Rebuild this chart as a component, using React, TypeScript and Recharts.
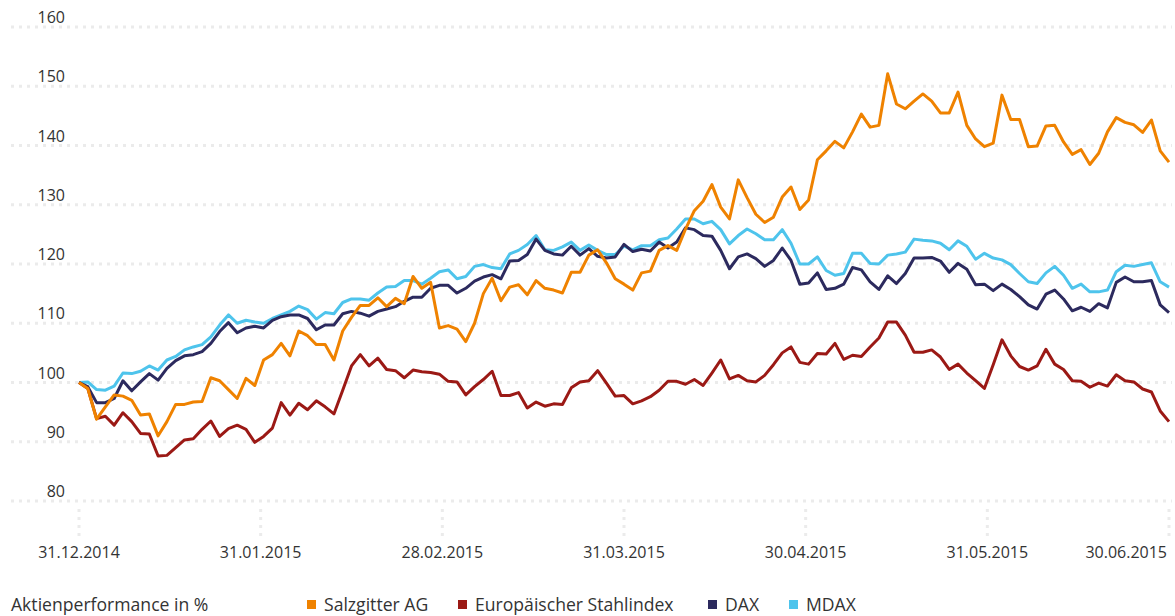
import { LineChart, Line, XAxis, YAxis, CartesianGrid } from "recharts";

const dates = ["31.12.2014", "31.01.2015", "28.02.2015", "31.03.2015", "30.04.2015", "31.05.2015", "30.06.2015"];
const yTicks = [80, 90, 100, 110, 120, 130, 140, 150, 160];

// Aktienperformance, indexiert 31.12.2014 = 100 (Handelstage)
const salzgitter = [
  100, 99, 93.8, 95.9, 97.9, 97.7, 97.0, 94.5, 94.7, 91.0,
  93.4, 96.3, 96.3, 96.7, 96.8, 100.8, 100.3, 98.8, 97.3, 100.7,
  99.5, 103.8, 104.7, 106.6, 104.5, 108.7, 107.9, 106.4, 106.4, 103.8,
  108.7, 111.0, 113.0, 113.0, 114.3, 112.8, 114.2, 113.3, 117.9, 115.9,
  116.9, 109.2, 109.6, 109.0, 106.9, 110.0, 115.0, 117.6, 113.8, 116.1,
  116.5, 114.8, 117.2, 115.9, 115.6, 115.1, 118.6, 118.6, 121.5, 122.4,
  120.2, 117.5, 116.6, 115.6, 118.5, 118.8, 122.3, 123.1, 122.3, 125.9,
  129.0, 130.6, 133.4, 129.6, 127.6, 134.2, 131.2, 128.4, 127.0, 127.9,
  131.3, 133.0, 129.2, 130.8, 137.6, 139.1, 140.7, 139.6, 142.3, 145.3,
  143.1, 143.4, 152.1, 147.0, 146.2, 147.5, 148.7, 147.5, 145.5, 145.5,
  149.0, 143.4, 141.1, 139.8, 140.4, 148.5, 144.4, 144.4, 139.8, 139.9,
  143.3, 143.4, 140.6, 138.5, 139.3, 136.8, 138.7, 142.3, 144.7, 143.9,
  143.5, 142.2, 144.3, 139.1, 137.2,
];

const stahlindex = [
  100, 99, 93.9, 94.3, 92.8, 94.9, 93.4, 91.4, 91.3, 87.6,
  87.7, 89.0, 90.3, 90.5, 92.1, 93.5, 90.9, 92.2, 92.8, 92.1,
  89.9, 90.9, 92.3, 96.6, 94.5, 96.5, 95.4, 96.9, 95.9, 94.7,
  98.7, 102.8, 104.7, 102.8, 104.1, 102.2, 102.0, 100.8, 102.1, 101.8,
  101.7, 101.4, 100.2, 100.1, 97.9, 99.3, 100.5, 101.9, 97.8, 97.8,
  98.3, 95.7, 96.7, 96.0, 96.4, 96.3, 99.1, 100.1, 100.3, 102.0,
  99.9, 97.7, 97.8, 96.4, 96.9, 97.6, 98.7, 100.2, 100.2, 99.7,
  100.5, 99.5, 101.6, 103.8, 100.6, 101.2, 100.3, 100.1, 101.2, 103.0,
  105.0, 106.0, 103.4, 103.1, 104.9, 104.8, 106.6, 103.9, 104.6, 104.4,
  106.0, 107.5, 110.2, 110.2, 108.0, 105.1, 105.1, 105.5, 104.3, 102.2,
  103.1, 101.6, 100.3, 99.0, 103.0, 107.2, 104.5, 102.7, 102.1, 102.8,
  105.6, 103.1, 102.2, 100.3, 100.2, 99.2, 99.9, 99.4, 101.3, 100.3,
  100.1, 98.9, 98.4, 95.2, 93.4,
];

const dax = [
  100, 99.3, 96.6, 96.6, 97.3, 100.3, 98.6, 100.1, 101.5, 100.4,
  102.4, 103.7, 104.5, 104.7, 105.2, 106.6, 108.6, 110.1, 108.4, 109.2,
  109.5, 109.2, 110.5, 111.1, 111.4, 111.4, 110.8, 108.9, 109.7, 109.7,
  111.6, 112.0, 111.7, 111.2, 112.0, 112.4, 112.8, 113.7, 114.4, 114.4,
  115.9, 116.4, 116.4, 115.1, 115.9, 117.1, 117.8, 118.2, 117.5, 120.5,
  120.6, 121.6, 124.2, 122.3, 121.7, 121.5, 123.0, 121.5, 122.6, 121.3,
  121.0, 121.2, 123.3, 122.1, 122.5, 122.2, 123.7, 122.7, 123.7, 126.1,
  125.8, 124.8, 124.7, 122.3, 119.2, 121.2, 121.7, 120.9, 119.6, 120.6,
  122.7, 120.6, 116.6, 116.8, 118.5, 115.7, 115.9, 116.6, 119.4, 119.0,
  117.0, 115.7, 118.0, 116.7, 118.4, 121.0, 121.0, 121.1, 120.5, 118.6,
  120.1, 119.1, 116.5, 116.6, 115.5, 116.6, 115.7, 114.5, 113.1, 112.4,
  114.9, 115.6, 114.1, 112.1, 112.7, 112.0, 113.3, 112.6, 116.9, 117.8,
  117.0, 117.0, 117.2, 113.1, 111.8,
];

const mdax = [
  100, 100.1, 98.8, 98.7, 99.4, 101.6, 101.5, 101.9, 102.8, 102.1,
  103.8, 104.4, 105.5, 106.0, 106.4, 107.7, 109.7, 111.4, 110.0, 110.5,
  110.2, 110.0, 110.8, 111.4, 112.0, 112.9, 112.3, 110.7, 111.8, 111.6,
  113.5, 114.1, 114.1, 113.9, 115.1, 116.1, 116.2, 117.2, 117.2, 116.6,
  117.6, 118.7, 119.0, 117.5, 117.9, 119.6, 119.9, 119.4, 119.2, 121.7,
  122.3, 123.3, 124.8, 122.4, 122.3, 122.9, 123.7, 122.3, 123.2, 122.3,
  121.6, 121.6, 123.0, 122.4, 123.1, 123.1, 124.1, 124.4, 125.9, 127.6,
  127.6, 126.8, 127.2, 125.8, 123.4, 124.8, 125.9, 125.1, 124.1, 124.1,
  125.8, 123.5, 120.0, 120.0, 121.2, 118.9, 118.1, 118.4, 121.8, 121.8,
  120.1, 120.0, 121.5, 121.7, 122.0, 124.2, 124.0, 123.9, 123.5, 122.4,
  123.9, 123.0, 120.8, 121.8, 121.0, 120.7, 119.9, 118.4, 117.0, 116.7,
  118.5, 119.6, 118.1, 115.9, 116.6, 115.3, 115.3, 115.6, 118.7, 119.8,
  119.6, 119.9, 120.2, 117.0, 116.1,
];

const series = [
  { key: "salzgitter", name: "Salzgitter AG", color: "#EF8200" },
  { key: "stahl", name: "Europäischer Stahlindex", color: "#9B1915" },
  { key: "dax", name: "DAX", color: "#2C2A5E" },
  { key: "mdax", name: "MDAX", color: "#4EC4EC" },
];

const data = salzgitter.map((v, i) => ({
  i,
  salzgitter: v,
  stahl: stahlindex[i],
  dax: dax[i],
  mdax: mdax[i],
}));

const last = salzgitter.length - 1;
const xTicks = dates.map((_, k) => (k * last) / (dates.length - 1));

const W = 1175;
const FONT = "'Open Sans', sans-serif";
const TEXT = "#333333";
const GRID = "#ebebeb";

// plot spans x 11..1172, first point at 79, last at 1169
const pxPerDay = (1169 - 79) / last;
const xDomain = [-(79 - 11) / pxPerDay, last + (1172 - 1169) / pxPerDay];

const DateTick = (props: any) => {
  const { x, y, index } = props;
  const isLast = index === dates.length - 1;
  return (
    <g>
      <line x1={x} x2={x} y1={y + 8} y2={y + 38} stroke={GRID} strokeWidth={3} strokeDasharray="3 5" />
      <text
        x={isLast ? x - 2 : x}
        y={y + 57}
        textAnchor={isLast ? "end" : "middle"}
        fontFamily={FONT}
        fontSize={16}
        fill={TEXT}
      >
        {dates[index]}
      </text>
    </g>
  );
};

// mirrored axis: x is the plot's left edge
const ValueTick = (props: any) => {
  const { x, y, payload } = props;
  return (
    <text x={x + 54} y={y - 4} textAnchor="end" fontFamily={FONT} fontSize={16} fill={TEXT}>
      {payload.value}
    </text>
  );
};

const legendX = [307, 458, 708, 789];

export default function App() {
  return (
    <div style={{ position: "fixed", left: 0, top: 0, width: W, height: 616, background: "#fff" }}>
      <LineChart width={W} height={570} data={data} margin={{ top: 27, right: 3, left: 11, bottom: 0 }}>
        <CartesianGrid vertical={false} stroke={GRID} strokeWidth={3} strokeDasharray="3 5" />
        <XAxis
          dataKey="i"
          type="number"
          domain={xDomain}
          allowDataOverflow
          ticks={xTicks}
          interval={0}
          height={69}
          tickSize={0}
          tickMargin={0}
          axisLine={false}
          tickLine={false}
          tick={<DateTick />}
        />
        <YAxis
          domain={[80, 160]}
          ticks={yTicks}
          interval={0}
          mirror
          width={60}
          tickSize={0}
          tickMargin={0}
          axisLine={false}
          tickLine={false}
          tick={<ValueTick />}
          allowDataOverflow
        />
        {[...series].reverse().map((s) => (
          <Line
            key={s.key}
            type="linear"
            dataKey={s.key}
            name={s.name}
            stroke={s.color}
            strokeWidth={3}
            strokeLinejoin="round"
            dot={false}
            activeDot={false}
            isAnimationActive={false}
          />
        ))}
      </LineChart>
      <svg width={W} height={40} style={{ position: "absolute", left: 0, top: 590 }}>
        <text x={11} y={21} fontFamily={FONT} fontSize={17.6} fill={TEXT}>
          Aktienperformance in %
        </text>
        {series.map((s, k) => (
          <g key={s.key}>
            <rect x={legendX[k]} y={10} width={9} height={9} fill={s.color} />
            <text x={legendX[k] + 17} y={21} fontFamily={FONT} fontSize={17.6} fill={TEXT}>
              {s.name}
            </text>
          </g>
        ))}
      </svg>
    </div>
  );
}
